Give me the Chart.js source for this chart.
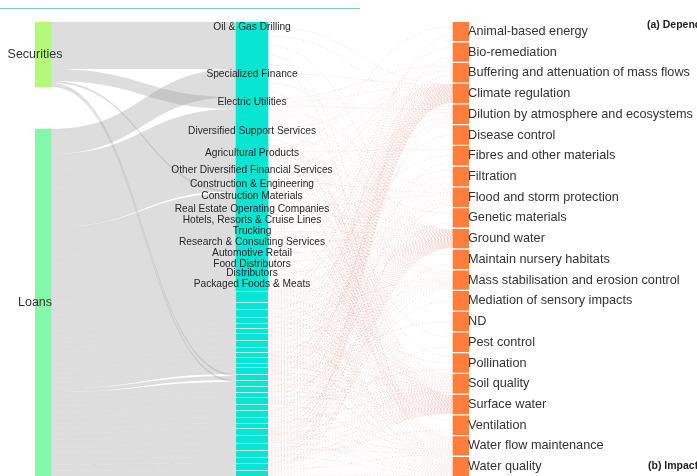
<!DOCTYPE html>
<html><head><meta charset="utf-8">
<script src="https://cdn.jsdelivr.net/npm/chart.js@4.4.1/dist/chart.umd.min.js"></script>
<style>html,body{margin:0;padding:0;background:#fff;overflow:hidden}canvas{display:block}</style>
</head><body>
<canvas id="c" width="697" height="476"></canvas>
<script>
// ---------- DATA ----------
const sources = ['Securities', 'Loans'];
const sourceTotals = [65, 347];

const industries = [
  'Oil & Gas Drilling', 'Specialized Finance', 'Electric Utilities', 'Diversified Support Services',
  'Agricultural Products', 'Other Diversified Financial Services', 'Construction & Engineering',
  'Construction Materials', 'Real Estate Operating Companies', 'Hotels, Resorts & Cruise Lines',
  'Trucking', 'Research & Consulting Services', 'Automotive Retail', 'Food Distributors',
  'Distributors', 'Packaged Foods & Meats',
  '', '', '', '', '', '', '', '', '', '', '', '', '', '', '', '', '', '', '', '', '', '', '', '', '', '', '', '', ''
];
const fromSecurities = [47, 0, 12, 0, 0, 0, 0, 2, 0, 0, 0, 0, 0, 0, 0, 0,
  0, 0, 0, 0, 0, 0, 0, 0, 0, 0, 0, 0, 0, 2, 2, 0, 0, 0, 0, 0, 0, 0, 0, 0, 0, 0, 0, 0, 0];
const fromLoans = [0, 28, 17, 22, 17, 14, 12, 11, 11, 11, 11, 11, 11, 9, 11, 12,
  11, 7, 8, 6, 5, 5, 7, 7, 5, 5, 6, 4, 7, 4, 4, 6, 5, 7, 6, 7, 6, 5, 7, 8, 7, 7, 6, 7, 6];

const services = [
  'Animal-based energy', 'Bio-remediation', 'Buffering and attenuation of mass flows',
  'Climate regulation', 'Dilution by atmosphere and ecosystems', 'Disease control',
  'Fibres and other materials', 'Filtration', 'Flood and storm protection', 'Genetic materials',
  'Ground water', 'Maintain nursery habitats', 'Mass stabilisation and erosion control',
  'Mediation of sensory impacts', 'ND', 'Pest control', 'Pollination', 'Soil quality',
  'Surface water', 'Ventilation', 'Water flow maintenance', 'Water quality'
];
const serviceWeights = [1, 1, 1, 1, 1, 1, 1, 1, 1, 1, 1, 1, 1, 1, 1, 1, 1, 1, 1, 1, 1, 1];

// service indices each industry links to
const industryTargets = [
  [3, 4, 10, 18, 21], [3, 10, 18], [2, 3, 4, 8, 10, 18, 20, 21], [3, 10, 18, 20],
  [0, 3, 6, 9, 10, 12, 15, 16, 17, 18, 20, 21], [3, 10, 18], [3, 8, 10, 12, 18, 20],
  [2, 3, 10, 12, 17, 18, 20, 21], [3, 8, 10, 18], [3, 10, 11, 18, 21], [3, 4, 10, 18, 19],
  [3, 10, 18], [3, 10, 18], [3, 10, 17, 18], [3, 10, 18], [3, 6, 10, 16, 17, 18, 21],
  [1, 3, 7, 10, 17, 18, 21], [3, 10, 18], [3, 4, 10, 12, 18, 20], [3, 10, 17, 18], [3, 10, 18],
  [2, 3, 10, 18, 21], [3, 8, 10, 12, 18, 20], [3, 10, 17, 18], [3, 10, 18], [3, 7, 10, 18, 21],
  [3, 10, 12, 17, 18, 20], [3, 10, 18], [0, 3, 5, 10, 14, 18, 21], [3, 4, 10, 17, 18],
  [3, 10, 18, 20], [3, 8, 10, 12, 18], [3, 10, 18], [3, 9, 10, 16, 17, 18, 21], [3, 10, 18, 20],
  [2, 3, 10, 12, 18, 21], [3, 10, 17, 18], [3, 10, 18], [3, 4, 7, 10, 13, 18, 20, 21],
  [3, 6, 10, 15, 17, 18, 21], [3, 10, 18, 20], [3, 8, 10, 12, 18, 19, 21], [3, 10, 17, 18],
  [1, 3, 10, 11, 18, 20], [3, 10, 18, 21]
];

// ---------- LAYOUT / STYLE ----------
const Y_MAX = 454;
const NODE_W = 32;
const COLORS = { sources: ['#b3fa7a', '#82f9aa'], industry: '#08e6d3', service: '#ff7e3e' };

function stack(values, padding) {
  const total = values.reduce((a, b) => a + b, 0);
  const k = (Y_MAX - padding * (values.length - 1)) / total;
  let y = 0;
  return values.map(v => { const r = [y, y + v * k]; y += v * k + padding; return r; });
}
const industryValues = industries.map((_, i) => fromSecurities[i] + fromLoans[i]);
const srcPos = stack(sourceTotals, 42);
const indPos = stack(industryValues, 0);
const svcPos = stack(serviceWeights, 2);

const barData = [], barColors = [], barBorders = [];
srcPos.forEach((p, i) => { barData.push({ x: 0, y: p }); barColors.push(COLORS.sources[i]); barBorders.push(0); });
indPos.forEach((p, i) => { barData.push({ x: 1, y: p }); barColors.push(COLORS.industry); barBorders.push(industries[i] ? 0 : 1); });
svcPos.forEach(p => { barData.push({ x: 2, y: p }); barColors.push(COLORS.service); barBorders.push(0); });

const sankeyPlugin = {
  id: 'sankeyLinks',
  beforeDatasetsDraw(chart) {
    const { ctx, scales: { x, y } } = chart;
    ctx.save();
    // top rule
    ctx.strokeStyle = 'rgb(128,202,192)';
    ctx.lineWidth = 1.2;
    ctx.beginPath(); ctx.moveTo(0, 8.5); ctx.lineTo(360, 8.5); ctx.stroke();

    // source -> industry bands
    const links = [];
    industries.forEach((_, i) => {
      if (fromSecurities[i] > 0) links.push({ s: 0, t: i, v: fromSecurities[i] });
      if (fromLoans[i] > 0) links.push({ s: 1, t: i, v: fromLoans[i] });
    });
    const outSum = sources.map((_, s) => links.filter(l => l.s === s).reduce((a, l) => a + l.v, 0));
    const srcCur = srcPos.map(p => p[0]);
    const tgtCur = indPos.map(p => p[0]);
    const x0 = x.getPixelForValue(0) + NODE_W / 2, x1 = x.getPixelForValue(1) - NODE_W / 2, xm = (x0 + x1) / 2;
    ctx.fillStyle = 'rgba(150,150,150,0.32)';
    links.forEach(l => {
      const sh = (srcPos[l.s][1] - srcPos[l.s][0]) * l.v / outSum[l.s];
      const th = (indPos[l.t][1] - indPos[l.t][0]) * l.v / industryValues[l.t];
      const sy0 = y.getPixelForValue(srcCur[l.s]), sy1 = y.getPixelForValue(srcCur[l.s] + sh);
      const ty0 = y.getPixelForValue(tgtCur[l.t]), ty1 = y.getPixelForValue(tgtCur[l.t] + th);
      srcCur[l.s] += sh; tgtCur[l.t] += th;
      ctx.beginPath();
      ctx.moveTo(x0, sy0);
      ctx.bezierCurveTo(xm, sy0, xm, ty0, x1, ty0);
      ctx.lineTo(x1, ty1);
      ctx.bezierCurveTo(xm, ty1, xm, sy1, x0, sy1);
      ctx.closePath();
      ctx.fill();
    });

    // industry -> service thin links
    const inCount = services.map(() => 0);
    industryTargets.forEach(ts => ts.forEach(t => inCount[t]++));
    const inIdx = services.map(() => 0);
    const a0 = x.getPixelForValue(1) + NODE_W / 2, a1 = x.getPixelForValue(2) - NODE_W / 2, am = (a0 + a1) / 2;
    ctx.strokeStyle = 'rgba(212,125,110,0.3)';
    ctx.lineWidth = 0.75;
    ctx.setLineDash([1.3, 1.9]);
    industryTargets.forEach((ts, i) => {
      const [i0, i1] = indPos[i];
      ts.forEach((t, k) => {
        const sv = i0 + (i1 - i0) * (k + 0.5) / ts.length;
        const [s0, s1] = svcPos[t];
        const tv = s0 + (s1 - s0) * (inIdx[t] + 0.5) / inCount[t];
        inIdx[t]++;
        const py0 = y.getPixelForValue(sv), py1 = y.getPixelForValue(tv);
        ctx.beginPath();
        ctx.moveTo(a0, py0);
        ctx.bezierCurveTo(am, py0, am, py1, a1, py1);
        ctx.stroke();
      });
    });
    ctx.restore();
  },
  afterDatasetsDraw(chart) {
    const { ctx, scales: { x, y } } = chart;
    ctx.save();
    ctx.fillStyle = '#333';
    ctx.textBaseline = 'middle';
    // sources
    ctx.font = '12.5px "Liberation Sans", Arial, sans-serif';
    ctx.textAlign = 'center';
    sources.forEach((s, i) => {
      ctx.fillText(s, x.getPixelForValue(0), y.getPixelForValue((srcPos[i][0] + srcPos[i][1]) / 2));
    });
    // industries
    ctx.font = '10.2px "Liberation Sans", Arial, sans-serif';
    ctx.fillStyle = '#262626';
    industries.forEach((s, i) => {
      if (!s) return;
      ctx.fillText(s, x.getPixelForValue(1), y.getPixelForValue(indPos[i][0]) + 5.5);
    });
    // services
    ctx.font = '12.7px "Liberation Sans", Arial, sans-serif';
    ctx.fillStyle = '#333';
    ctx.textAlign = 'left';
    services.forEach((s, i) => {
      ctx.fillText(s, x.getPixelForValue(2) - NODE_W / 2 + 15, y.getPixelForValue((svcPos[i][0] + svcPos[i][1]) / 2));
    });
    // panel captions
    ctx.font = 'bold 10.5px "Liberation Sans", Arial, sans-serif';
    ctx.fillStyle = '#222';
    ctx.fillText('(a) Dependencies', 647, 25);
    ctx.fillText('(b) Impacts', 648, 466);
    ctx.restore();
  }
};

new Chart(document.getElementById('c'), {
  type: 'bar',
  data: {
    datasets: [{
      data: barData,
      backgroundColor: barColors,
      borderColor: 'rgba(255,255,255,0.17)',
      borderWidth: ctx => ({ top: barBorders[ctx.dataIndex] || 0, right: 0, bottom: 0, left: 0 }),
      borderSkipped: false,
      barThickness: NODE_W
    }]
  },
  options: {
    responsive: false,
    animation: false,
    devicePixelRatio: 1,
    layout: { padding: { top: 22, bottom: 0, left: 35, right: 228 } },
    plugins: { legend: { display: false }, tooltip: { enabled: false } },
    scales: {
      x: { type: 'linear', min: 0, max: 2, offset: false, display: false },
      y: { type: 'linear', min: 0, max: Y_MAX, reverse: true, display: false }
    }
  },
  plugins: [sankeyPlugin]
});
</script>
</body></html>
